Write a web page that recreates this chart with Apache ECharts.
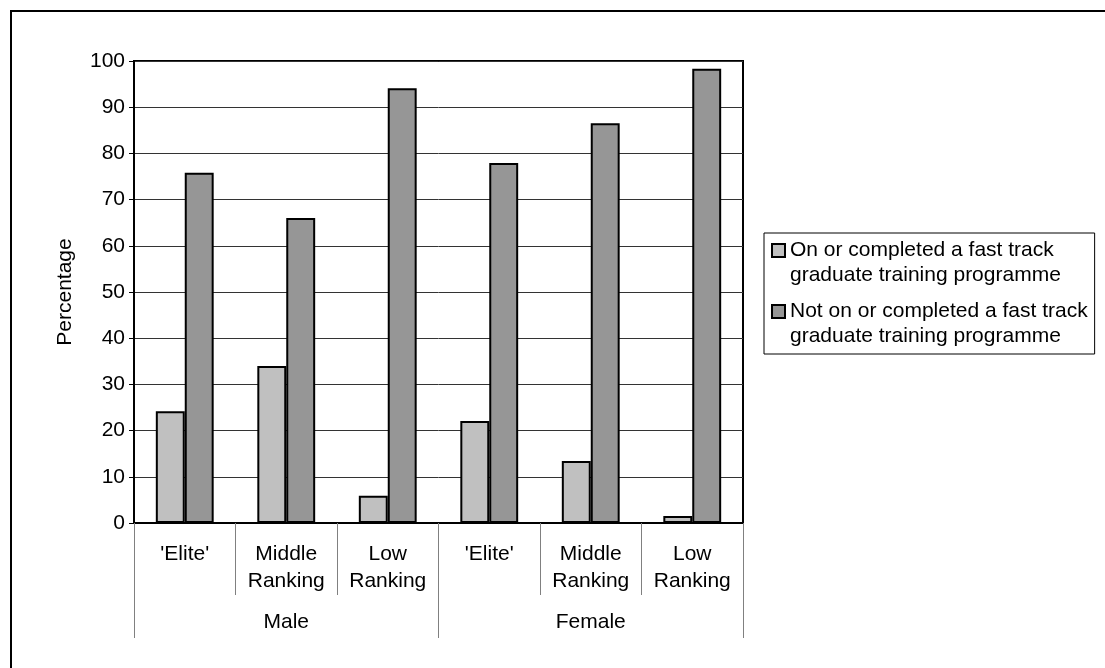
<!DOCTYPE html>
<html>
<head>
<meta charset="utf-8">
<script src="https://cdn.jsdelivr.net/npm/echarts@6/dist/echarts.min.js"></script>
<style>
  html, body { margin: 0; padding: 0; background: #fff; overflow: hidden; }
  #frame { position: absolute; left: 10px; top: 10px; width: 1200px; height: 800px;
    border-left: 2px solid #000; border-top: 2px solid #000; }
  #chart { position: absolute; left: 0; top: 0; width: 1105px; height: 668px; }
</style>
</head>
<body>
<div id="frame"></div>
<div id="chart"></div>
<script>
// categories
var rankings = ["'Elite'", 'Middle\nRanking', 'Low\nRanking', "'Elite'", 'Middle\nRanking', 'Low\nRanking']
var genders = ['Male', 'Female']
var seriesNames = [
  'On or completed a fast track\ngraduate training programme',
  'Not on or completed a fast track\ngraduate training programme'
]
// values (percentage)
var fastTrack = [24.2, 34.0, 5.9, 22.1, 13.4, 1.5]
var notFastTrack = [75.8, 66.0, 94.1, 77.9, 86.5, 98.3]

var font = 'Liberation Sans, Arial, sans-serif'
var chart = echarts.init(document.getElementById('chart'))

// square icon sitting next to the first line of a two line legend label
var legendIcon = 'path://M0,0 M0,50 M0,6 L13,6 L13,19 L0,19 Z'

chart.setOption({
  animation: false,
  textStyle: { fontFamily: font },
  grid: {
    left: 134, right: 362, top: 61, bottom: 145,
    show: true, borderColor: '#000', borderWidth: 2, backgroundColor: 'transparent'
  },
  legend: {
    orient: 'vertical',
    left: 764, top: 233,
    padding: [4, 7, 4, 7],
    borderColor: '#000', borderWidth: 1,
    itemWidth: 13, itemHeight: 50, itemGap: 9,
    icon: legendIcon,
    itemStyle: { borderColor: '#000', borderWidth: 2 },
    textStyle: { fontSize: 21, color: '#000', lineHeight: 25 },
    data: seriesNames
  },
  xAxis: [
    {
      type: 'category',
      data: rankings,
      position: 'bottom',
      axisLine: { lineStyle: { color: '#000', width: 2 } },
      axisTick: { show: true, length: 72, interval: 0, lineStyle: { color: '#808080', width: 1 } },
      axisLabel: { interval: 0, color: '#000', fontSize: 21, lineHeight: 27, margin: 18 }
    },
    {
      type: 'category',
      data: genders,
      position: 'bottom',
      axisLine: { show: false },
      axisTick: { show: true, length: 115, interval: 0, lineStyle: { color: '#808080', width: 1 } },
      axisLabel: { interval: 0, color: '#000', fontSize: 21, lineHeight: 27, margin: 86 }
    }
  ],
  yAxis: {
    type: 'value',
    min: 0, max: 100, interval: 10,
    name: 'Percentage',
    nameLocation: 'middle',
    nameRotate: 90,
    nameGap: 58,
    nameTextStyle: { color: '#000', fontSize: 21 },
    axisLine: { show: true, lineStyle: { color: '#000', width: 2 } },
    axisTick: { show: true, length: 5, lineStyle: { color: '#000', width: 1 } },
    axisLabel: { color: '#000', fontSize: 21, margin: 9 },
    splitLine: { show: true, lineStyle: { color: '#333', width: 1 } }
  },
  series: [
    {
      name: seriesNames[0],
      type: 'bar',
      data: fastTrack,
      barGap: '0%',
      barCategoryGap: '43%',
      itemStyle: { color: '#c0c0c0', borderColor: '#000', borderWidth: 2 }
    },
    {
      name: seriesNames[1],
      type: 'bar',
      data: notFastTrack,
      barGap: '0%',
      barCategoryGap: '43%',
      itemStyle: { color: '#969696', borderColor: '#000', borderWidth: 2 }
    }
  ]
})
</script>
</body>
</html>
